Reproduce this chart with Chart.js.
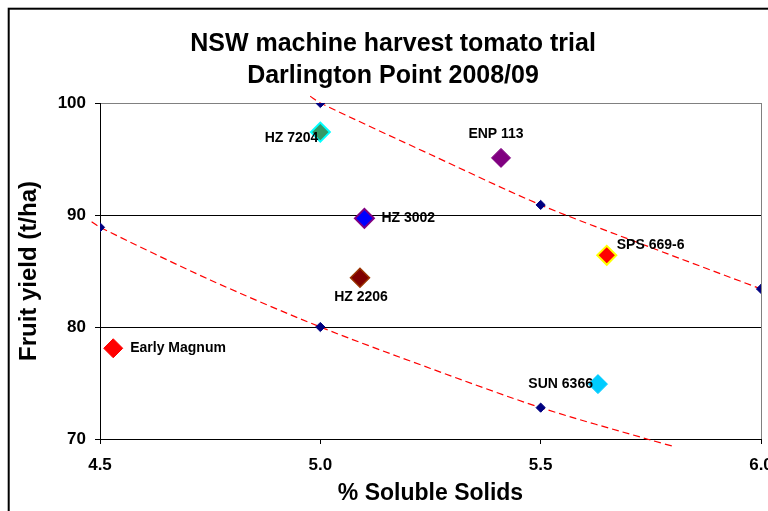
<!DOCTYPE html>
<html>
<head>
<meta charset="utf-8">
<script src="https://cdn.jsdelivr.net/npm/chart.js@4"></script>
<style>
    body { margin: 0; background: #ffffff; overflow: hidden; }
    /* холст шире окна: подпись "6.0" обрезается краем, как в оригинале */
    #wrap { width: 768px; height: 511px; overflow: hidden; }
</style>
</head>
<body>
<div id="wrap"><canvas id="chart" width="790" height="511"></canvas></div>
<script>
// Сорта (крупные ромбы)
const varieties = ['Early Magnum', 'HZ 7204', 'ENP 113', 'HZ 3002', 'HZ 2206', 'SPS 669-6', 'SUN 6366'];
const solids = [4.53, 5.00, 5.41, 5.10, 5.09, 5.65, 5.63];
const yields = [78.1, 97.4, 95.1, 89.7, 84.4, 86.4, 74.9];

// Опорные точки (маленькие тёмно-синие ромбы)
const checkSolids = [5.0, 5.5, 6.0, 4.5, 5.0, 5.5];
const checkYields = [100.0, 90.9, 83.4, 88.9, 80.0, 72.8];

// Пунктирные линии
const upperX = [4.977, 5.0, 5.25, 5.5, 5.75, 6.0];
const upperY = [100.6, 100.0, 95.4, 90.9, 87.1, 83.4];
const lowerX = [4.481, 4.5, 4.75, 5.0, 5.25, 5.5, 5.75, 5.805];
const lowerY = [89.4, 88.9, 84.2, 80.0, 76.3, 72.8, 69.9, 69.3];

const xTicks = [4.5, 5.0, 5.5, 6.0];
const yTicks = [70, 80, 90, 100];

const FONT = '"Liberation Sans", Arial, sans-serif';

// Цвета маркеров сортов
const fillColors = ['#FF0000', '#339966', '#800080', '#0000FF', '#800000', '#FF0000', '#00CCFF'];
const edgeColors = ['#FF0000', '#00FFFF', '#800080', '#800080', '#993300', '#FFFF00', '#00CCFF'];
const edgeWidths = [1, 2, 1, 2, 1.5, 2, 1];

// Положение подписей относительно точки
const labelPlacement = [
    { dx: 17, dy: 0, align: 'left' },
    { dx: -2, dy: 6.5, align: 'right' },
    { dx: -5, dy: -23.5, align: 'center' },
    { dx: 17, dy: 0, align: 'left' },
    { dx: 1, dy: 19, align: 'center' },
    { dx: 10, dy: -10.5, align: 'left' },
    { dx: -5, dy: 0, align: 'right' }
];

const toPoints = (xs, ys) => xs.map((x, i) => ({ x: x, y: ys[i] }));

// Белый фон и рамка диаграммы
const framePlugin = {
    id: 'frame',
    beforeDraw(chart) {
        const ctx = chart.ctx;
        ctx.save();
        ctx.fillStyle = '#ffffff';
        ctx.fillRect(0, 0, chart.width, chart.height);
        ctx.strokeStyle = '#000000';
        ctx.lineWidth = 2;
        ctx.strokeRect(8.7, 8.7, 1000, 1000);
        ctx.restore();
    }
};

// Подписи сортов
const labelPlugin = {
    id: 'varietyLabels',
    afterDatasetsDraw(chart) {
        const ctx = chart.ctx;
        const meta = chart.getDatasetMeta(0);
        ctx.save();
        ctx.font = 'bold 14px ' + FONT;
        ctx.fillStyle = '#000000';
        ctx.textBaseline = 'middle';
        meta.data.forEach((pt, i) => {
            const p = labelPlacement[i];
            ctx.textAlign = p.align;
            ctx.fillText(varieties[i], pt.x + p.dx, pt.y + p.dy);
        });
        ctx.restore();
    }
};

const ctx = document.getElementById('chart').getContext('2d');
const chart = new Chart(ctx, {
    type: 'scatter',
    data: {
        datasets: [
            {
                label: 'Varieties',
                data: toPoints(solids, yields),
                pointStyle: 'rectRot',
                pointRadius: 9.5,
                backgroundColor: fillColors,
                borderColor: edgeColors,
                borderWidth: edgeWidths
            },
            {
                label: 'Checks',
                data: toPoints(checkSolids, checkYields),
                pointStyle: 'rectRot',
                pointRadius: 4.6,
                backgroundColor: '#000080',
                borderColor: '#000080',
                borderWidth: 1
            },
            {
                label: 'Upper',
                data: toPoints(upperX, upperY),
                showLine: true,
                pointRadius: 0,
                borderColor: '#FF0000',
                borderWidth: 1.2,
                borderDash: [7, 4],
                tension: 0.3,
                clip: false
            },
            {
                label: 'Lower',
                data: toPoints(lowerX, lowerY),
                showLine: true,
                pointRadius: 0,
                borderColor: '#FF0000',
                borderWidth: 1.2,
                borderDash: [7, 4],
                tension: 0.3,
                clip: false
            }
        ]
    },
    options: {
        responsive: false,
        animation: false,
        events: [],
        layout: {
            padding: { left: 25, right: 29, top: 0, bottom: 0 }
        },
        plugins: {
            legend: { display: false },
            tooltip: { enabled: false },
            title: {
                display: true,
                text: ['NSW machine harvest tomato trial', 'Darlington Point 2008/09'],
                color: '#000000',
                font: { family: FONT, size: 25, weight: 'bold', lineHeight: 1.28 },
                padding: { top: 28, bottom: 11 }
            }
        },
        scales: {
            x: {
                type: 'linear',
                min: 4.5,
                max: 6.0,
                afterBuildTicks: (scale) => {
                    scale.ticks = xTicks.map(v => ({ value: v }));
                },
                afterFit: (scale) => {
                    scale.height = 72;
                },
                ticks: {
                    color: '#000000',
                    padding: 11,
                    maxRotation: 0,
                    font: { family: FONT, size: 17, weight: 'bold' },
                    callback: (v) => Number(v).toFixed(1)
                },
                grid: {
                    color: (c) => (c.tick && c.tick.value === 6.0) ? '#808080' : 'rgba(0,0,0,0)',
                    tickColor: '#000000',
                    tickLength: 5,
                    lineWidth: 1
                },
                border: { color: '#000000', width: 1 },
                title: {
                    display: true,
                    text: '% Soluble Solids',
                    color: '#000000',
                    font: { family: FONT, size: 23, weight: 'bold' },
                    padding: { top: 0, bottom: 4 }
                }
            },
            y: {
                type: 'linear',
                min: 70,
                max: 100,
                afterBuildTicks: (scale) => {
                    scale.ticks = yTicks.map(v => ({ value: v }));
                },
                afterFit: (scale) => {
                    scale.width = 75;
                },
                ticks: {
                    color: '#000000',
                    padding: 9,
                    font: { family: FONT, size: 17, weight: 'bold' }
                },
                grid: {
                    color: (c) => (c.tick && c.tick.value === 100) ? '#808080' : '#000000',
                    tickColor: '#000000',
                    tickLength: 5,
                    lineWidth: 1
                },
                border: { color: '#000000', width: 1 },
                title: {
                    display: true,
                    text: 'Fruit yield (t/ha)',
                    color: '#000000',
                    font: { family: FONT, size: 24, weight: 'bold' },
                    padding: { top: -10.4, bottom: 0 }
                }
            }
        }
    },
    plugins: [framePlugin, labelPlugin]
});
</script>
</body>
</html>
